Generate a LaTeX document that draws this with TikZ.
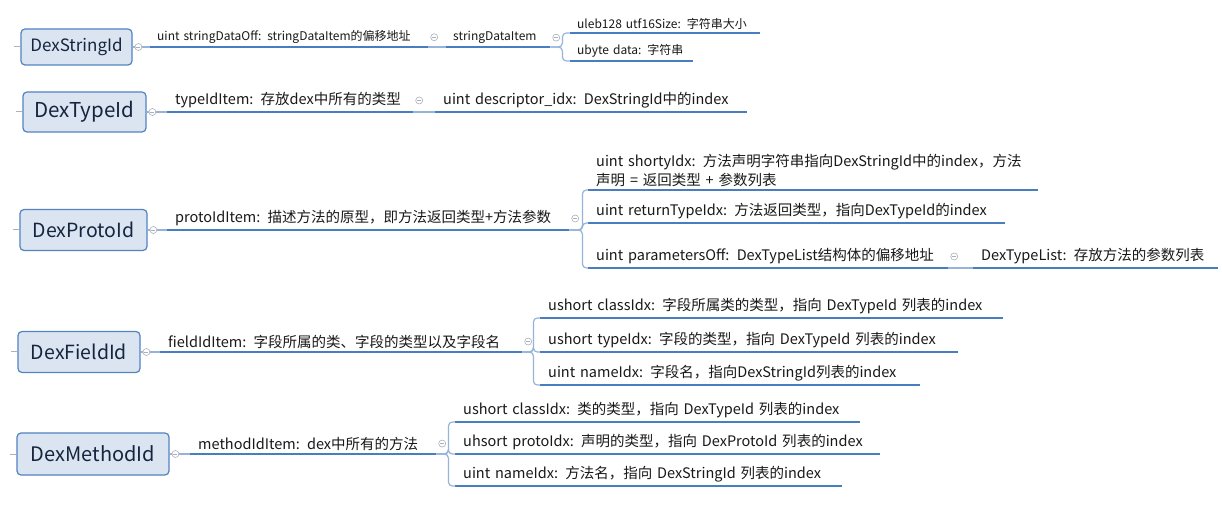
\documentclass[tikz,border=0pt]{standalone}
\usepackage{fontspec}
\setmainfont{Noto Sans CJK SC}
\usetikzlibrary{positioning}
\definecolor{boxfill}{RGB}{219,229,241}
\definecolor{boxline}{RGB}{84,131,192}
\definecolor{boxtext}{RGB}{22,36,62}
\definecolor{ulblue}{RGB}{70,126,192}
\definecolor{linkblue}{RGB}{150,180,218}
\definecolor{stubgray}{RGB}{170,178,190}
\definecolor{foldgray}{RGB}{170,176,186}
\definecolor{topictext}{RGB}{25,25,25}

\tikzset{
  idbox/.style={draw=boxline, fill=boxfill, rounded corners=4bp, line width=1.2bp,
    text=boxtext, inner sep=0pt},
  topic/.style={anchor=south west, inner xsep=8bp, inner ysep=3.5bp, align=left,
    text width=#1, text=topictext, font=\fontsize{14.5bp}{19bp}\selectfont},
  small/.style={inner xsep=7bp, inner ysep=3bp, font=\fontsize{12bp}{14bp}\selectfont},
  uline/.style={draw=ulblue, line width=2.6bp},
  link/.style={draw=linkblue, line width=1.2bp},
  stub/.style={draw=stubgray, line width=1bp},
  fold/.style={circle, draw=foldgray, fill=white, line width=.6bp, minimum size=7bp,
    inner sep=0pt, path picture={\draw[foldgray, line width=.6bp]
      ([xshift=-2bp]path picture bounding box.center) --
      ([xshift=2bp]path picture bounding box.center);}}
}

\begin{document}
\begin{tikzpicture}[x=1bp, y=-1bp]
  \useasboundingbox[fill=white] (0,0) rectangle (1222,521);

  % DexStringId
  \draw(76.5,47) node[idbox, minimum width=111bp, minimum height=36bp, font=\fontsize{17bp}{20bp}\selectfont] (S) {DexStringId};
  \draw(150,47) node[topic=264bp, small] (S1) {uint stringDataOff: stringDataItem的偏移地址};
  \draw(446,47) node[topic=90bp, small] (S2) {stringDataItem};
  \draw(570,33) node[topic=176bp, small] (S3) {uleb128 utf16Size: 字符串大小};
  \draw(570,61) node[topic=109bp, small] (S4) {ubyte data: 字符串};

  % DexTypeId
  \draw(84.5,112) node[idbox, minimum width=123bp, minimum height=40bp, font=\fontsize{20.5bp}{24bp}\selectfont] (T) {DexTypeId};
  \draw(167,112) node[topic=230bp] (T1) {typeIdItem: 存放dex中所有的类型};
  \draw(435,112) node[topic=296bp] (T2) {uint descriptor\_idx: DexStringId中的index};

  % DexProtoId
  \draw(83.5,230) node[idbox, minimum width=127bp, minimum height=41bp, font=\fontsize{19.5bp}{24bp}\selectfont] (P) {DexProtoId};
  \draw(167,230) node[topic=386bp] (P1) {protoIdItem: 描述方法的原型，即方法返回类型+方法参数};
  \draw(588,190) node[topic=434bp] (P2) {uint shortyIdx: 方法声明字符串指向DexStringId中的index，方法\\声明 = 返回类型 + 参数列表};
  \draw(588,223) node[topic=401bp] (P3) {uint returnTypeIdx: 方法返回类型，指向DexTypeId的index};
  \draw(588,268) node[topic=344bp] (P4) {uint parametersOff: DexTypeList结构体的偏移地址};
  \draw(973,268) node[topic=229bp] (P5) {DexTypeList: 存放方法的参数列表};

  % DexFieldId
  \draw(79,352) node[idbox, minimum width=122bp, minimum height=41bp, font=\fontsize{19.5bp}{24bp}\selectfont] (F) {DexFieldId};
  \draw(160,352) node[topic=346bp] (F1) {fieldIdItem: 字段所属的类、字段的类型以及字段名};
  \draw(540,318) node[topic=447bp] (F2) {ushort classIdx: 字段所属类的类型，指向 DexTypeId 列表的index};
  \draw(540,352) node[topic=402bp] (F3) {ushort typeIdx: 字段的类型，指向 DexTypeId 列表的index};
  \draw(540,385) node[topic=364bp] (F4) {uint nameIdx: 字段名，指向DexStringId列表的index};

  % DexMethodId
  \draw(93,454) node[idbox, minimum width=152bp, minimum height=42bp, font=\fontsize{20bp}{24bp}\selectfont] (M) {DexMethodId};
  \draw(190,454) node[topic=230bp] (M1) {methodIdItem: dex中所有的方法};
  \draw(455,422) node[topic=389bp] (M2) {ushort classIdx: 类的类型，指向 DexTypeId 列表的index};
  \draw(455,454) node[topic=409bp] (M3) {uhsort protoIdx: 声明的类型，指向 DexProtoId 列表的index};
  \draw(455,486) node[topic=371bp] (M4) {uint nameIdx: 方法名，指向 DexStringId 列表的index};

  % underlines
  \foreach \t in {S1,S2,S3,S4,T1,T2,P1,P2,P3,P4,P5,F1,F2,F3,F4,M1,M2,M3,M4}
    \draw[uline] (\t.south west) -- (\t.south east);

  % stubs and links
  \foreach \b in {S,T,P,F,M}
    \draw[stub] (\b.west) -- ++(-6,0);
  \draw[link] (S.east) -- (S1.south west);
  \draw[link] (S1.south east) -- (S2.south west);
  \draw[link] (T.east) -- (T1.south west);
  \draw[link] (T1.south east) -- (T2.south west);
  \draw[link] (P.east) -- (P1.south west);
  \draw[link] (P4.south east) -- (P5.south west);
  \draw[link] (F.east) -- (F1.south west);
  \draw[link] (M.east) -- (M1.south west);
  \foreach \c in {S3,S4}
    \draw[link, rounded corners=4bp] (S2.south east) -- ++(12,0) |- (\c.south west);
  \foreach \c in {P2,P3,P4}
    \draw[link, rounded corners=4bp] (P1.south east) -- ++(13,0) |- (\c.south west);
  \foreach \c in {F2,F3,F4}
    \draw[link, rounded corners=4bp] (F1.south east) -- ++(11,0) |- (\c.south west);
  \foreach \c in {M2,M3,M4}
    \draw[link, rounded corners=4bp] (M1.south east) -- ++(12,0) |- (\c.south west);

  % fold markers
  \foreach \n in {S,T,P,F,M,S1,S2,T1,P1,P4,F1,M1}
    \node[fold, right=2bp of \n] (f\n) {};
\end{tikzpicture}
\end{document}
